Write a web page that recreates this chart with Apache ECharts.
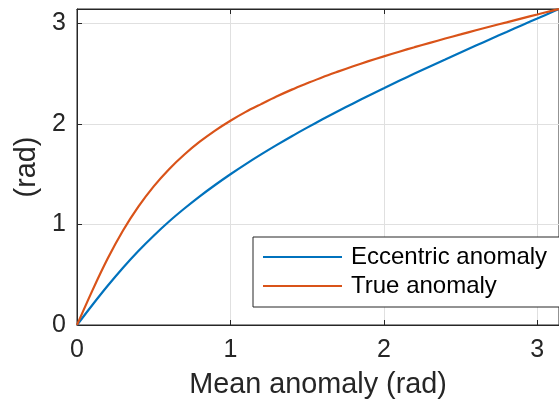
<!DOCTYPE html>
<html>
<head>
<meta charset="utf-8">
<script src="https://cdn.jsdelivr.net/npm/echarts@6/dist/echarts.min.js"></script>
<style>
html,body{margin:0;padding:0;background:#fff;}
#c{width:559px;height:408px;}
</style>
</head>
<body>
<div id="c"></div>
<script>
const meanAnomaly = [0,0.1,0.2,0.3,0.4,0.5,0.6,0.7,0.8,0.9,1.0,1.1,1.2,1.3,1.4,1.5,1.6,1.7,1.8,1.9,2.0,2.1,2.2,2.3,2.4,2.5,2.6,2.7,2.8,2.9,3.0,3.1,3.1416];
const eccentricAnomaly = [0,0.199,0.390,0.570,0.736,0.888,1.029,1.158,1.279,1.392,1.499,1.600,1.696,1.788,1.877,1.962,2.045,2.125,2.203,2.280,2.354,2.428,2.500,2.570,2.640,2.710,2.778,2.846,2.913,2.981,3.047,3.114,3.1416];
const trueAnomaly = [0,0.342,0.660,0.939,1.176,1.378,1.549,1.695,1.822,1.933,2.031,2.119,2.196,2.271,2.340,2.403,2.464,2.519,2.572,2.623,2.671,2.717,2.762,2.805,2.848,2.889,2.930,2.970,3.009,3.049,3.087,3.126,3.1416];
const seriesNames = ['Eccentric anomaly','True anomaly'];
const xTitle = 'Mean anomaly (rad)';
const yTitle = '(rad)';

const font = "'Liberation Sans', Helvetica, Arial, sans-serif";
const axisColor = '#262626';
const gridColor = '#e0e0e0';

const chart = echarts.init(document.getElementById('c'), null, {renderer:'canvas'});
const pairs = arr => meanAnomaly.map((m,i)=>[m, arr[i]]);

const baseX = {
  type:'value', min:0, max:Math.PI, interval:1
};
chart.setOption({
  animation:false,
  backgroundColor:'#fff',
  grid:{left:77, right:-6.5, top:9, bottom:83, show:true, borderColor:axisColor, borderWidth:1, backgroundColor:'transparent'},
  xAxis:[
    Object.assign({}, baseX, {
      position:'bottom',
      name:xTitle, nameLocation:'middle', nameGap:46,
      nameTextStyle:{fontFamily:font, fontSize:28.8, color:axisColor},
      axisLine:{show:true, onZero:false, lineStyle:{color:axisColor, width:1}},
      axisTick:{show:true, inside:true, length:5, lineStyle:{color:axisColor}},
      axisLabel:{showMaxLabel:false, margin:13, fontFamily:font, fontSize:25, color:axisColor},
      splitLine:{show:true, lineStyle:{color:gridColor, width:1}}
    }),
    Object.assign({}, baseX, {
      position:'top',
      axisLine:{show:true, onZero:false, lineStyle:{color:axisColor, width:1}},
      axisTick:{show:true, inside:true, length:5, lineStyle:{color:axisColor}},
      axisLabel:{show:false},
      splitLine:{show:false}
    })
  ],
  yAxis:{
    type:'value', min:0, max:Math.PI, interval:1,
    name:yTitle, nameLocation:'middle', nameGap:35,
    nameTextStyle:{fontFamily:font, fontSize:28.8, color:axisColor},
    axisLine:{show:true, onZero:false, lineStyle:{color:axisColor, width:1}},
    axisTick:{show:true, inside:true, length:5, lineStyle:{color:axisColor}},
    axisLabel:{showMaxLabel:false, margin:11, fontFamily:font, fontSize:25, color:axisColor},
    splitLine:{show:true, lineStyle:{color:gridColor, width:1}}
  },
  legend:{
    orient:'vertical', left:253, top:237,
    padding:[8,40,9,10], itemGap:5,
    itemWidth:79, itemHeight:2, icon:'rect',
    backgroundColor:'#fff', borderColor:axisColor, borderWidth:1, borderRadius:0,
    textStyle:{fontFamily:font, fontSize:24, color:'#000', lineHeight:24, padding:[0,0,0,4]},
    data:seriesNames
  },
  series:[
    {name:seriesNames[0], type:'line', data:pairs(eccentricAnomaly), symbol:'none', showSymbol:false, smooth:0.3,
     lineStyle:{color:'#0072BD', width:2.2}, itemStyle:{color:'#0072BD'}, z:3},
    {name:seriesNames[1], type:'line', data:pairs(trueAnomaly), symbol:'none', showSymbol:false, smooth:0.3,
     lineStyle:{color:'#D95319', width:2.2}, itemStyle:{color:'#D95319'}, z:4}
  ]
});
</script>
</body>
</html>
